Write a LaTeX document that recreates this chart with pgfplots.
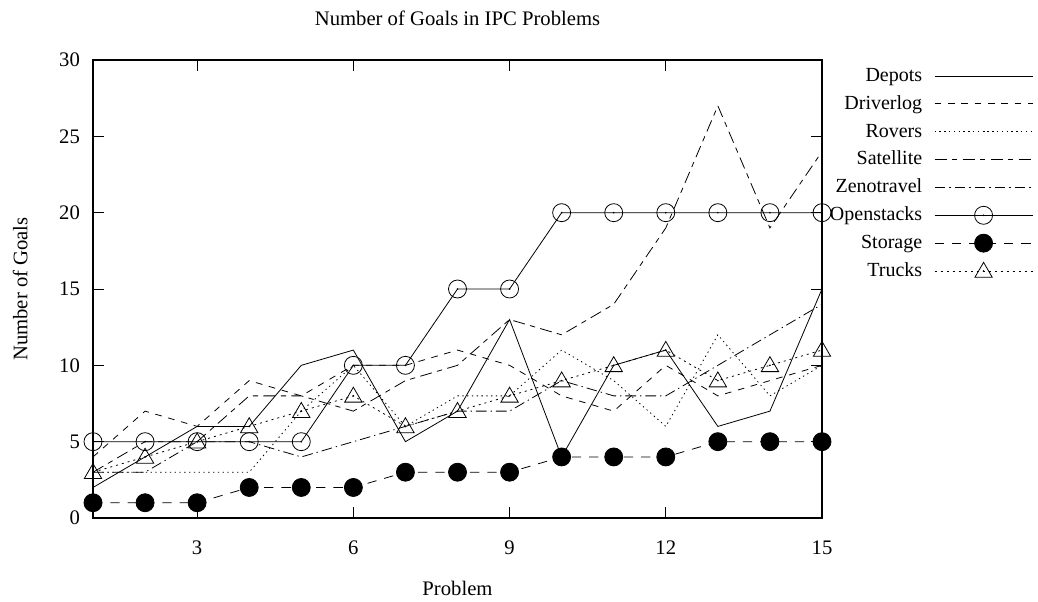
\documentclass[border=0pt]{standalone}
\usepackage{fontspec}
\setmainfont{Liberation Serif}
\usepackage{pgfplots}
\pgfplotsset{compat=1.18}
\pgfdeclareplotmark{circdot}{%
  \pgfpathcircle{\pgfpointorigin}{6.75pt}\pgfusepathqstroke
  \pgfpathcircle{\pgfpointorigin}{0.7pt}\pgfusepathqfill}
\pgfdeclareplotmark{tridot}{%
  \pgfpathmoveto{\pgfpoint{0pt}{6.5pt}}%
  \pgfpathlineto{\pgfpoint{-6.5pt}{-4.7pt}}%
  \pgfpathlineto{\pgfpoint{6.5pt}{-4.7pt}}%
  \pgfpathclose\pgfusepathqstroke
  \pgfpathcircle{\pgfpointorigin}{0.7pt}\pgfusepathqfill}
\pgfdeclareplotmark{bigdot}{%
  \pgfpathcircle{\pgfpointorigin}{6.75pt}\pgfusepathqfillstroke}
\begin{document}
\fontsize{15.5pt}{18pt}\selectfont
\begin{tikzpicture}
\path[use as bounding box] (-69.75pt,-62.25pt) rectangle (708.75pt,388.5pt);
\begin{axis}[
  at={(0pt,0pt)}, anchor=south west,
  scale only axis, width=546.75pt, height=343.5pt,
  xmin=1, xmax=15, ymin=0, ymax=30,
  xtick={3,6,9,12,15}, ytick={0,5,10,15,20,25,30},
  tick align=inside, major tick length=8pt,
  axis line style={line width=0.8pt},
  every tick/.style={black, line width=0.6pt},
  /pgf/number format/assume math mode=true,
  xticklabel style={yshift=-12pt},
  yticklabel style={xshift=-4.5pt},
  title={Number of Goals in IPC Problems},
  title style={at={(axis description cs:0.5,1.074)}, anchor=center, yshift=0pt},
  xlabel={Problem},
  xlabel style={at={(axis description cs:0.5,-0.1528)}, anchor=center},
  ylabel={Number of Goals},
  ylabel style={at={(axis description cs:-0.1,0.5)}, anchor=center},
  legend plot pos=right,
  legend cell align=right,
  legend style={at={(axis description cs:1.2894,0.987)}, anchor=north east,
    draw=none, fill=none, inner sep=0pt, outer sep=0pt,
    row sep=5.9pt, column sep=9pt, font=\fontsize{15pt}{18pt}\selectfont,
    nodes={inner sep=0pt, text height=11.5pt, text depth=3.5pt}},
  legend image code/.code={\draw[mark repeat=2,mark phase=2,#1] plot coordinates {(0pt,0pt) (36.75pt,0pt) (73.5pt,0pt)};},
  every axis plot/.append style={black, line width=0.6pt, mark options={solid}},
]
\addplot[solid] coordinates {(1,2)(2,4)(3,6)(4,6)(5,10)(6,11)(7,5)(8,7)(9,13)(10,4)(11,10)(12,11)(13,6)(14,7)(15,15)};
\addlegendentry{Depots}
\addplot[dash pattern=on 5pt off 5pt] coordinates {(1,4)(2,7)(3,6)(4,9)(5,8)(6,10)(7,10)(8,11)(9,10)(10,8)(11,7)(12,10)(13,8)(14,9)(15,10)};
\addlegendentry{Driverlog}
\addplot[dash pattern=on 1pt off 2.6pt] coordinates {(1,3)(2,3)(3,3)(4,3)(5,7)(6,10)(7,6)(8,8)(9,8)(10,11)(11,9)(12,6)(13,12)(14,8)(15,10)};
\addlegendentry{Rovers}
\addplot[dash pattern=on 9pt off 4pt on 4pt off 4pt] coordinates {(1,3)(2,5)(3,5)(4,8)(5,8)(6,7)(7,9)(8,10)(9,13)(10,12)(11,14)(12,19)(13,27)(14,19)(15,24)};
\addlegendentry{Satellite}
\addplot[dash pattern=on 8pt off 3pt on 1pt off 3pt] coordinates {(1,3)(2,3)(3,5)(4,5)(5,4)(6,5)(7,6)(8,7)(9,7)(10,9)(11,8)(12,8)(13,10)(14,12)(15,14)};
\addlegendentry{Zenotravel}
\addplot[solid, mark=circdot] coordinates {(1,5)(2,5)(3,5)(4,5)(5,5)(6,10)(7,10)(8,15)(9,15)(10,20)(11,20)(12,20)(13,20)(14,20)(15,20)};
\addlegendentry{Openstacks}
\addplot[dash pattern=on 7pt off 6pt, mark=bigdot] coordinates {(1,1)(2,1)(3,1)(4,2)(5,2)(6,2)(7,3)(8,3)(9,3)(10,4)(11,4)(12,4)(13,5)(14,5)(15,5)};
\addlegendentry{Storage}
\addplot[dash pattern=on 1.5pt off 3pt, mark=tridot] coordinates {(1,3)(2,4)(3,5)(4,6)(5,7)(6,8)(7,6)(8,7)(9,8)(10,9)(11,10)(12,11)(13,9)(14,10)(15,11)};
\addlegendentry{Trucks}
\end{axis}
\end{tikzpicture}
\end{document}
